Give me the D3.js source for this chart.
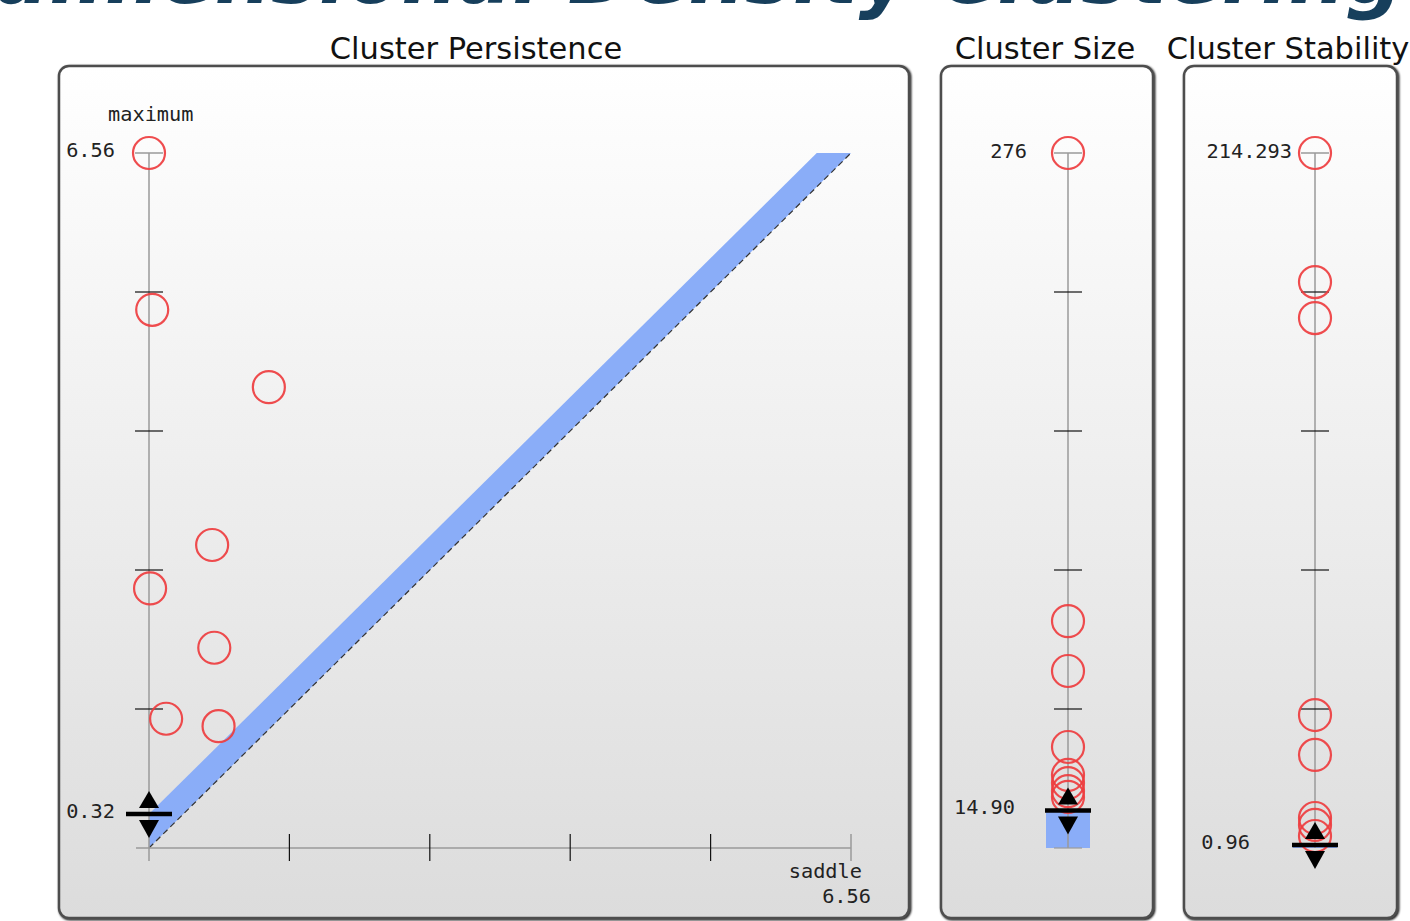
<!DOCTYPE html>
<html>
<head>
<meta charset="utf-8">
<script src="https://cdn.jsdelivr.net/npm/d3@7/dist/d3.min.js"></script>
<style>
  html, body { margin: 0; padding: 0; background: #ffffff; }
  svg { display: block; }
</style>
</head>
<body>
<svg id="chart" width="1410" height="921"></svg>
<script>
// ---- data -------------------------------------------------------------
const pageTitle = "Multidimensional Density Clustering";
const panelTitles = ["Cluster Persistence", "Cluster Size", "Cluster Stability"];

// persistence diagram: one point per cluster (saddle, maximum)
const saddleValues  = [0.00, 0.03, 1.12, 0.59, 0.01, 0.61, 0.16, 0.65];
const maximumValues = [6.56, 5.08, 4.35, 2.86, 2.45, 1.89, 1.22, 1.15];
const persistenceMax = 6.56;
const persistenceThreshold = 0.32;

// cluster sizes
const sizeValues = [276, 90.1, 70.3, 40.1, 29.0, 25.8, 22.6, 20.3];
const sizeMax = 276;
const sizeThreshold = 14.90;

// cluster stability
const stabilityValues = [214.293, 174.5, 163.4, 41.0, 28.7, 9.25, 7.1, 3.7];
const stabilityMax = 214.293;
const stabilityThreshold = 0.96;

// tick labels
const persistenceMaxLabel = "6.56";
const persistenceThresholdLabel = "0.32";
const sizeMaxLabel = "276";
const sizeThresholdLabel = "14.90";
const stabilityMaxLabel = "214.293";
const stabilityThresholdLabel = "0.96";
const axisNames = { y: "maximum", x: "saddle" };

// ---- layout & style ---------------------------------------------------
const svg = d3.select("#chart");
const monoFont = "'DejaVu Sans Mono', monospace";
const sansFont = "'DejaVu Sans', sans-serif";
const RED = "#ee3d3f";
const BLUE = "#8aadf8";
const AXIS_GRAY = "#9a9a9a";
const R = 16;
const yTop = 153, yBottom = 848;
const tickCount = 5;
const monoSize = 20.3;

const defs = svg.append("defs");
const grad = defs.append("linearGradient")
  .attr("id", "panelBg").attr("x1", 0).attr("y1", 0).attr("x2", 0).attr("y2", 1);
grad.append("stop").attr("offset", "0%").attr("stop-color", "#ffffff");
grad.append("stop").attr("offset", "100%").attr("stop-color", "#dcdcdc");

const shadow = defs.append("filter").attr("id", "panelShadow")
  .attr("x", "-5%").attr("y", "-5%").attr("width", "110%").attr("height", "110%");
shadow.append("feGaussianBlur").attr("in", "SourceAlpha").attr("stdDeviation", 1.2).attr("result", "b");
shadow.append("feOffset").attr("in", "b").attr("dx", 1).attr("dy", 1).attr("result", "o");
const merge = shadow.append("feMerge");
merge.append("feMergeNode").attr("in", "o");
merge.append("feMergeNode").attr("in", "SourceGraphic");

// big heading, running off the top edge of the page
svg.append("text")
  .attr("x", 1403).attr("y", 3)
  .attr("text-anchor", "end")
  .attr("font-family", sansFont)
  .attr("font-weight", "bold")
  .attr("font-style", "oblique")
  .attr("font-size", 80)
  .attr("fill", "#173f5c")
  .text(pageTitle);

const panels = [
  { x0: 59,   x1: 909,  tx: 476,  title: panelTitles[0] },
  { x0: 941,  x1: 1153, tx: 1045, title: panelTitles[1] },
  { x0: 1184, x1: 1397, tx: 1288, title: panelTitles[2] }
];

panels.forEach(p => {
  svg.append("rect")
    .attr("x", p.x0).attr("y", 66)
    .attr("width", p.x1 - p.x0).attr("height", 852)
    .attr("rx", 10).attr("ry", 10)
    .attr("fill", "url(#panelBg)")
    .attr("stroke", "#4d4d4d").attr("stroke-width", 2.5)
    .attr("filter", "url(#panelShadow)");
  svg.append("text")
    .attr("x", p.tx).attr("y", 59)
    .attr("text-anchor", "middle")
    .attr("font-family", sansFont).attr("font-size", 30.5)
    .attr("fill", "#111")
    .text(p.title);
});

// vertical value axis with evenly spaced ticks
function drawVAxis(g, xPos, yScale, maxVal, extendBottom) {
  g.append("line")
    .attr("x1", xPos).attr("x2", xPos)
    .attr("y1", yScale(maxVal)).attr("y2", yScale(0) + extendBottom)
    .attr("stroke", AXIS_GRAY).attr("stroke-width", 1.5);
  const ticks = d3.range(1, tickCount).map(i => maxVal * i / tickCount);
  g.selectAll(null).data(ticks).enter().append("line")
    .attr("x1", xPos - 14).attr("x2", xPos + 14)
    .attr("y1", d => yScale(d)).attr("y2", d => yScale(d))
    .attr("stroke", "#111").attr("stroke-width", 1.2);
  g.append("line")
    .attr("x1", xPos - 14).attr("x2", xPos + 14)
    .attr("y1", yScale(maxVal)).attr("y2", yScale(maxVal))
    .attr("stroke", AXIS_GRAY).attr("stroke-width", 1.5);
}

// threshold marker: bar with up / down arrows
function drawThreshold(g, xPos, yPos) {
  g.append("path")
    .attr("d", `M${xPos - 10},${yPos - 6} L${xPos + 10},${yPos - 6} L${xPos},${yPos - 23} Z`)
    .attr("fill", "#000");
  g.append("path")
    .attr("d", `M${xPos - 10},${yPos + 6} L${xPos + 10},${yPos + 6} L${xPos},${yPos + 24} Z`)
    .attr("fill", "#000");
  g.append("line")
    .attr("x1", xPos - 23).attr("x2", xPos + 23)
    .attr("y1", yPos).attr("y2", yPos)
    .attr("stroke", "#000").attr("stroke-width", 4.5);
}

function monoLabel(g, x, y, text, anchor) {
  g.append("text")
    .attr("x", x).attr("y", y)
    .attr("text-anchor", anchor || "end")
    .attr("dominant-baseline", "middle")
    .attr("font-family", monoFont).attr("font-size", monoSize)
    .attr("fill", "#222")
    .text(text);
}

function drawCircles(g, cx, cy, data) {
  g.selectAll(null).data(data).enter().append("circle")
    .attr("cx", cx).attr("cy", cy)
    .attr("r", R)
    .attr("fill", "none")
    .attr("stroke", RED).attr("stroke-width", 2.2)
    .attr("stroke-opacity", 0.92);
}

// ---- panel 1: persistence diagram -------------------------------------
{
  const g = svg.append("g");
  const x = d3.scaleLinear().domain([0, persistenceMax]).range([149, 851]);
  const y = d3.scaleLinear().domain([0, persistenceMax]).range([yBottom, yTop]);

  // band of clusters whose persistence is below the threshold
  const band = [
    [0, 0], [0, persistenceThreshold],
    [persistenceMax - persistenceThreshold, persistenceMax],
    [persistenceMax, persistenceMax]
  ];
  g.append("path")
    .attr("d", d3.line().x(d => x(d[0])).y(d => y(d[1]))(band) + "Z")
    .attr("fill", BLUE);

  // diagonal saddle == maximum
  g.append("line")
    .attr("x1", x(0)).attr("y1", y(0))
    .attr("x2", x(persistenceMax)).attr("y2", y(persistenceMax))
    .attr("stroke", "#333").attr("stroke-width", 1.2)
    .attr("stroke-dasharray", "6,4");

  drawVAxis(g, x(0), y, persistenceMax, 13);

  // horizontal saddle axis
  g.append("line")
    .attr("x1", x(0) - 13).attr("x2", x(persistenceMax))
    .attr("y1", y(0)).attr("y2", y(0))
    .attr("stroke", AXIS_GRAY).attr("stroke-width", 1.5);
  const xt = d3.range(1, tickCount).map(i => persistenceMax * i / tickCount);
  g.selectAll(null).data(xt).enter().append("line")
    .attr("x1", d => x(d)).attr("x2", d => x(d))
    .attr("y1", y(0) - 14).attr("y2", y(0) + 13)
    .attr("stroke", "#111").attr("stroke-width", 1.2);
  g.append("line")
    .attr("x1", x(persistenceMax)).attr("x2", x(persistenceMax))
    .attr("y1", y(0) - 14).attr("y2", y(0) + 13)
    .attr("stroke", AXIS_GRAY).attr("stroke-width", 1.5);

  monoLabel(g, 108, 115, axisNames.y, "start");
  monoLabel(g, 115, y(persistenceMax) - 2, persistenceMaxLabel);
  monoLabel(g, 115, y(persistenceThreshold) - 2, persistenceThresholdLabel);
  monoLabel(g, 862, 872, axisNames.x);
  monoLabel(g, 871, 897, persistenceMaxLabel);

  drawThreshold(g, x(0), y(persistenceThreshold));

  g.selectAll(null).data(saddleValues.map((s, i) => [s, maximumValues[i]]))
    .enter().append("circle")
    .attr("cx", d => x(d[0])).attr("cy", d => y(d[1]))
    .attr("r", R).attr("fill", "none")
    .attr("stroke", RED).attr("stroke-width", 2.2).attr("stroke-opacity", 0.92);
}

// ---- panel 2: cluster size --------------------------------------------
{
  const g = svg.append("g");
  const ax = 1068;
  const y = d3.scaleLinear().domain([0, sizeMax]).range([yBottom, yTop]);
  g.append("rect")
    .attr("x", ax - 22).attr("width", 44)
    .attr("y", y(sizeThreshold)).attr("height", y(0) - y(sizeThreshold))
    .attr("fill", BLUE);
  drawVAxis(g, ax, y, sizeMax, 0);
  g.append("line")
    .attr("x1", ax - 14).attr("x2", ax + 14)
    .attr("y1", y(0)).attr("y2", y(0))
    .attr("stroke", AXIS_GRAY).attr("stroke-width", 1.2);
  monoLabel(g, 1027, y(sizeMax) - 1, sizeMaxLabel);
  monoLabel(g, 1015, y(sizeThreshold) - 2, sizeThresholdLabel);
  drawCircles(g, ax, d => y(d), sizeValues);
  drawThreshold(g, ax, y(sizeThreshold));
}

// ---- panel 3: cluster stability ---------------------------------------
{
  const g = svg.append("g");
  const ax = 1315;
  const y = d3.scaleLinear().domain([0, stabilityMax]).range([yBottom, yTop]);
  g.append("rect")
    .attr("x", ax - 22).attr("width", 44)
    .attr("y", y(stabilityThreshold)).attr("height", y(0) - y(stabilityThreshold))
    .attr("fill", BLUE);
  drawVAxis(g, ax, y, stabilityMax, 0);
  monoLabel(g, 1292, y(stabilityMax) - 1, stabilityMaxLabel);
  monoLabel(g, 1250, y(stabilityThreshold) - 1, stabilityThresholdLabel);
  drawCircles(g, ax, d => y(d), stabilityValues);
  drawThreshold(g, ax, y(stabilityThreshold));
}
</script>
</body>
</html>
